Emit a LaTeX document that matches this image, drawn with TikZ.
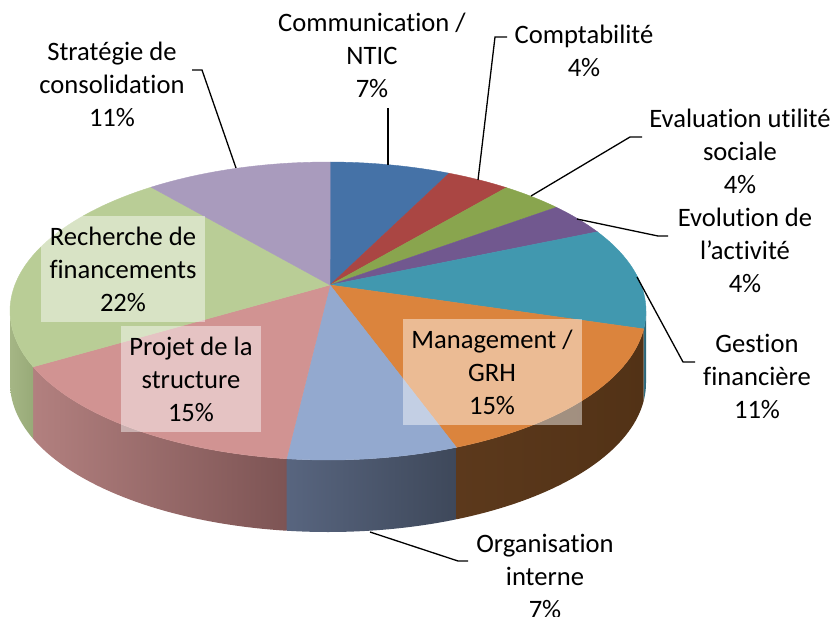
\documentclass[tikz,border=0pt]{standalone}
\usepackage{fontspec}
\setmainfont{Carlito}[Ligatures={ResetAll,NoCommon,NoContextual}]
\definecolor{cComm}{RGB}{69,114,167}
\definecolor{cCompta}{RGB}{170,70,67}
\definecolor{cEval}{RGB}{137,165,78}
\definecolor{cEvol}{RGB}{113,88,143}
\definecolor{cGest}{RGB}{65,152,175}
\definecolor{cMan}{RGB}{219,132,61}
\definecolor{cOrg}{RGB}{147,169,207}
\definecolor{cProj}{RGB}{209,147,146}
\definecolor{cRech}{RGB}{185,205,150}
\definecolor{cStrat}{RGB}{169,155,189}
\begin{document}
\begin{tikzpicture}[x=1pt,y=-1pt,
  lbl/.style={font=\fontsize{26.6}{33}\selectfont, align=center, inner sep=0pt},
  inbox/.style={lbl, fill=white, fill opacity=0.45, text opacity=1},
  leader/.style={draw=black, line width=1.3pt},
  slice/.style={fill=#1, draw=#1, line width=0.4pt}]
\useasboundingbox (0,0) rectangle (835,616);
\coordinate (A) at (330,285);

% ---- sides ----
\shade[left color={rgb,255:red,50;green,112;blue,132}, right color={rgb,255:red,40;green,95;blue,112}]
  plot[domain=0:6.9,samples=8] ({328+318*cos(\x)},{311+149*sin(\x)})
  -- plot[domain=6.9:0,samples=8] ({328+318*cos(\x)},{383+149*sin(\x)}) -- cycle;
\shade[left color={rgb,255:red,92;green,57;blue,28}, right color={rgb,255:red,82;green,50;blue,22}]
  plot[domain=6.9:66.2,samples=40] ({328+318*cos(\x)},{311+149*sin(\x)})
  -- plot[domain=66.2:6.9,samples=40] ({328+318*cos(\x)},{383+149*sin(\x)}) -- cycle;
\shade[left color={rgb,255:red,88;green,101;blue,127}, right color={rgb,255:red,62;green,72;blue,90}]
  plot[domain=66.2:97.5,samples=30] ({328+318*cos(\x)},{311+149*sin(\x)})
  -- plot[domain=97.5:66.2,samples=30] ({328+318*cos(\x)},{383+149*sin(\x)}) -- cycle;
\shade[left color={rgb,255:red,178;green,128;blue,127}, right color={rgb,255:red,125;green,84;blue,84}]
  plot[domain=97.5:158,samples=40] ({328+318*cos(\x)},{311+149*sin(\x)})
  -- plot[domain=158:97.5,samples=40] ({328+318*cos(\x)},{383+149*sin(\x)}) -- cycle;
\shade[left color={rgb,255:red,165;green,182;blue,133}, right color={rgb,255:red,152;green,170;blue,120}]
  plot[domain=158:180,samples=15] ({328+318*cos(\x)},{311+149*sin(\x)})
  -- plot[domain=180:158,samples=15] ({328+318*cos(\x)},{383+149*sin(\x)}) -- cycle;

% ---- top slices ----
\filldraw[slice=cComm] (A) -- plot[domain=-89.6:-67.6,samples=20] ({328+318*cos(\x)},{311+149*sin(\x)}) -- cycle;
\filldraw[slice=cCompta] (A) -- plot[domain=-67.6:-55.9,samples=12] ({328+318*cos(\x)},{311+149*sin(\x)}) -- cycle;
\filldraw[slice=cEval] (A) -- plot[domain=-55.9:-44.1,samples=12] ({328+318*cos(\x)},{311+149*sin(\x)}) -- cycle;
\filldraw[slice=cEvol] (A) -- plot[domain=-44.1:-32.1,samples=12] ({328+318*cos(\x)},{311+149*sin(\x)}) -- cycle;
\filldraw[slice=cGest] (A) -- plot[domain=-32.1:6.9,samples=30] ({328+318*cos(\x)},{311+149*sin(\x)}) -- cycle;
\filldraw[slice=cMan] (A) -- plot[domain=6.9:66.2,samples=40] ({328+318*cos(\x)},{311+149*sin(\x)}) -- cycle;
\filldraw[slice=cOrg] (A) -- plot[domain=66.2:97.5,samples=25] ({328+318*cos(\x)},{311+149*sin(\x)}) -- cycle;
\filldraw[slice=cProj] (A) -- plot[domain=97.5:158,samples=40] ({328+318*cos(\x)},{311+149*sin(\x)}) -- cycle;
\filldraw[slice=cRech] (A) -- plot[domain=158:236.2,samples=50] ({328+318*cos(\x)},{311+149*sin(\x)}) -- cycle;
\filldraw[slice=cStrat] (A) -- plot[domain=236.2:270.4,samples=25] ({328+318*cos(\x)},{311+149*sin(\x)}) -- cycle;

% ---- inside labels ----
\node[inbox, minimum width=164pt, minimum height=106pt] (rech) at (123,269) {Recherche de\\financements\\22\%};
\node[inbox, minimum width=140pt, minimum height=106pt] (proj) at (191,379) {Projet de la\\structure\\15\%};
\node[inbox, minimum width=179pt, minimum height=106pt] (man) at (492,372) {Management /\\GRH\\15\%};

% ---- outside labels ----
\node[lbl] (strat) at (112,84) {Strat\'egie de\\consolidation\\11\%};
\node[lbl] (comm) at (372,55) {Communication /\\NTIC\\7\%};
\node[lbl] (compta) at (584,51) {Comptabilit\'e\\4\%};
\node[lbl] (eval) at (740,151) {Evaluation utilit\'e\\sociale\\4\%};
\node[lbl] (evol) at (745,250) {Evolution de\\l'activit\'e\\4\%};
\node[lbl] (gest) at (757,376) {Gestion\\financi\`ere\\11\%};
\node[lbl] (org) at (545,576) {Organisation\\interne\\7\%};

% ---- leaders ----
\coordinate (sP) at (236,168); \coordinate (sE) at (202,70); \coordinate (sT) at (192,70);
\draw[leader] (sP) -- (sE) -- (sT);
\coordinate (cP) at (388,165); \coordinate (cT) at (388,108);
\draw[leader] (cP) -- (cT);
\coordinate (kP) at (478,180); \coordinate (kE) at (495,37); \coordinate (kT) at (507,37);
\draw[leader] (kP) -- (kE) -- (kT);
\coordinate (vP) at (531,196); \coordinate (vE) at (630,137); \coordinate (vT) at (642,137);
\draw[leader] (vP) -- (vE) -- (vT);
\coordinate (oP) at (577,219); \coordinate (oE) at (658,236); \coordinate (oT) at (668,236);
\draw[leader] (oP) -- (oE) -- (oT);
\coordinate (gP) at (637,277); \coordinate (gE) at (683,362); \coordinate (gT) at (695,362);
\draw[leader] (gP) -- (gE) -- (gT);
\coordinate (rP) at (370,532); \coordinate (rE) at (458,561); \coordinate (rT) at (468,561);
\draw[leader] (rP) -- (rE) -- (rT);
\end{tikzpicture}
\end{document}
